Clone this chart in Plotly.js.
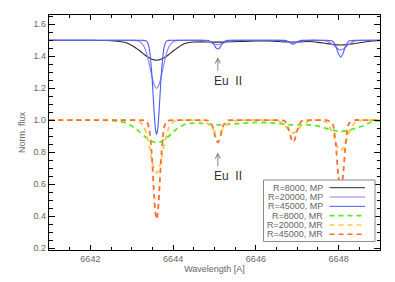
<!DOCTYPE html>
<html>
<head>
<meta charset="utf-8">
<script src="https://cdn.plot.ly/plotly-3.0.1.min.js"></script>
<style>html,body{margin:0;padding:0;background:#fff;}#chart{width:395px;height:282px;}</style>
</head>
<body>
<div id="chart"></div>
<script>
// Wavelength grid [A]
const wavelength = [6641.0, 6642.0, 6642.4, 6642.7, 6642.9, 6643.1, 6643.2, 6643.3, 6643.36, 6643.42,
  6643.48, 6643.54, 6643.57, 6643.6, 6643.63, 6643.66, 6643.72, 6643.78, 6643.84, 6643.9,
  6644.0, 6644.1, 6644.3, 6644.5, 6644.7, 6644.85, 6644.95, 6645.0, 6645.04, 6645.08,
  6645.12, 6645.16, 6645.22, 6645.32, 6645.45, 6645.7, 6646.0, 6646.3, 6646.55, 6646.7,
  6646.8, 6646.86, 6646.9, 6646.94, 6647.0, 6647.1, 6647.3, 6647.5, 6647.7, 6647.85,
  6647.93, 6647.99, 6648.05, 6648.11, 6648.17, 6648.25, 6648.4, 6648.6, 6648.8, 6649.0];

// MP spectra (shifted by +0.5)
const mpR8000 = [1.5, 1.5, 1.498, 1.492, 1.481, 1.452, 1.433, 1.412, 1.400, 1.390,
  1.382, 1.377, 1.376, 1.375, 1.376, 1.377, 1.382, 1.390, 1.400, 1.412,
  1.433, 1.452, 1.481, 1.489, 1.490, 1.489, 1.489, 1.488, 1.488, 1.488,
  1.488, 1.488, 1.489, 1.490, 1.491, 1.493, 1.495, 1.495, 1.492, 1.490,
  1.489, 1.489, 1.489, 1.489, 1.489, 1.490, 1.492, 1.487, 1.480, 1.475,
  1.472, 1.471, 1.470, 1.471, 1.472, 1.475, 1.480, 1.488, 1.495, 1.499];
const mpR20000 = [1.5, 1.5, 1.5, 1.5, 1.5, 1.499, 1.491, 1.459, 1.417, 1.354,
  1.282, 1.223, 1.206, 1.200, 1.206, 1.223, 1.282, 1.354, 1.417, 1.459,
  1.491, 1.499, 1.5, 1.5, 1.5, 1.491, 1.481, 1.476, 1.473, 1.472,
  1.473, 1.476, 1.482, 1.492, 1.499, 1.5, 1.5, 1.5, 1.499, 1.495,
  1.490, 1.488, 1.488, 1.488, 1.490, 1.495, 1.5, 1.5, 1.496, 1.475,
  1.456, 1.445, 1.440, 1.445, 1.456, 1.475, 1.496, 1.5, 1.5, 1.5];
const mpR45000 = [1.5, 1.5, 1.5, 1.5, 1.5, 1.5, 1.5, 1.499, 1.494, 1.453,
  1.308, 1.055, 0.950, 0.910, 0.950, 1.055, 1.308, 1.453, 1.494, 1.499,
  1.5, 1.5, 1.5, 1.5, 1.5, 1.499, 1.485, 1.467, 1.451, 1.445,
  1.451, 1.467, 1.488, 1.499, 1.5, 1.5, 1.5, 1.5, 1.5, 1.499,
  1.489, 1.479, 1.476, 1.479, 1.489, 1.499, 1.5, 1.5, 1.5, 1.495,
  1.466, 1.420, 1.394, 1.420, 1.466, 1.495, 1.5, 1.5, 1.5, 1.5];

// MR spectra
const mrR8000 = [1.0, 1.0, 0.999, 0.992, 0.979, 0.947, 0.925, 0.901, 0.888, 0.877,
  0.868, 0.862, 0.8605, 0.860, 0.8605, 0.862, 0.868, 0.877, 0.888, 0.901,
  0.925, 0.947, 0.976, 0.982, 0.980, 0.976, 0.973, 0.972, 0.971, 0.971,
  0.971, 0.971, 0.972, 0.973, 0.976, 0.981, 0.986, 0.984, 0.978, 0.974,
  0.971, 0.970, 0.970, 0.970, 0.971, 0.972, 0.970, 0.963, 0.948, 0.937,
  0.933, 0.931, 0.930, 0.931, 0.933, 0.937, 0.948, 0.965, 0.990, 0.998];
const mrR20000 = [1.0, 1.0, 1.0, 1.0, 1.0, 0.999, 0.990, 0.955, 0.908, 0.839,
  0.760, 0.695, 0.677, 0.670, 0.677, 0.695, 0.760, 0.839, 0.908, 0.955,
  0.990, 0.999, 1.0, 1.0, 0.997, 0.975, 0.945, 0.931, 0.923, 0.920,
  0.923, 0.931, 0.948, 0.978, 0.996, 1.0, 1.0, 1.0, 0.995, 0.967,
  0.936, 0.923, 0.920, 0.923, 0.936, 0.967, 0.998, 1.0, 0.987, 0.922,
  0.862, 0.825, 0.810, 0.825, 0.862, 0.922, 0.987, 1.0, 1.0, 1.0];
const mrR45000 = [1.0, 1.0, 1.0, 1.0, 1.0, 1.0, 1.0, 0.999, 0.993, 0.950,
  0.799, 0.532, 0.422, 0.380, 0.422, 0.532, 0.799, 0.950, 0.993, 0.999,
  1.0, 1.0, 1.0, 1.0, 1.0, 0.998, 0.963, 0.915, 0.877, 0.860,
  0.877, 0.915, 0.970, 0.999, 1.0, 1.0, 1.0, 1.0, 1.0, 0.994,
  0.937, 0.879, 0.863, 0.879, 0.937, 0.994, 1.0, 1.0, 1.0, 0.980,
  0.854, 0.660, 0.550, 0.660, 0.854, 0.980, 1.0, 1.0, 1.0, 1.0];

const seriesNames = ['R=8000, MP', 'R=20000, MP', 'R=45000, MP', 'R=8000, MR', 'R=20000, MR', 'R=45000, MR'];
const seriesValues = [mpR8000, mpR20000, mpR45000, mrR8000, mrR20000, mrR45000];
const seriesColors = ['#2a2a2a', '#9478ee', '#4a5af2', '#5fe81e', '#ffc84a', '#ff6e2e'];
const seriesDashed = [false, false, false, true, true, true];

// Eu II marker
const lineLabel = 'Eu\u00a0 II';
const euWavelength = 6645.08;

const DASH = '5px,4px';
const traces = seriesValues.map((vals, i) => ({
  x: wavelength, y: vals, type: 'scatter', mode: 'lines', name: seriesNames[i],
  showlegend: false, hoverinfo: 'skip',
  line: {color: seriesColors[i], width: seriesDashed[i] ? 1.8 : 1.1,
         dash: seriesDashed[i] ? DASH : 'solid', shape: 'spline', smoothing: 0.6}
}));

// plot area in pixels (for legend placement)
const W = 395, H = 282, ML = 49, MR = 15, MT = 15, MB = 32;
const PW = W - ML - MR, PH = H - MT - MB;
const px = v => (v - ML) / PW;
const py = v => (H - MB - v) / PH;

const shapes = [{type: 'rect', xref: 'paper', yref: 'paper', x0: px(263.5), x1: px(375), y0: py(241.5), y1: py(180),
  fillcolor: '#ffffff', line: {color: '#8a8a8a', width: 1}, layer: 'above'}];
const annotations = [];
seriesNames.forEach((nm, i) => {
  const rowY = 187.7 + i * 9.32;
  shapes.push({type: 'line', xref: 'paper', yref: 'paper', x0: px(329.5), x1: px(365), y0: py(rowY), y1: py(rowY),
    line: {color: seriesColors[i], width: seriesDashed[i] ? 1.6 : 1.0, dash: seriesDashed[i] ? DASH : 'solid'}, layer: 'above'});
  annotations.push({xref: 'paper', yref: 'paper', x: px(325), y: py(rowY), xanchor: 'right', yanchor: 'middle',
    text: nm, showarrow: false, font: {family: 'Liberation Sans, Arial, sans-serif', size: 9, color: '#666'}});
});

// Eu II arrows and labels
const arrowStyle = {text: '', showarrow: true, arrowhead: 5, arrowsize: 1.1, arrowwidth: 0.9, arrowcolor: '#777',
  axref: 'x', ayref: 'y', xref: 'x', yref: 'y'};
annotations.push(Object.assign({x: euWavelength, y: 1.394, ax: euWavelength, ay: 1.30}, arrowStyle));
annotations.push(Object.assign({x: euWavelength, y: 0.798, ax: euWavelength, ay: 0.702}, arrowStyle));
annotations.push({x: 6645.335, y: 1.242, xref: 'x', yref: 'y', text: lineLabel, showarrow: false,
  font: {family: 'Liberation Sans, Arial, sans-serif', size: 12, color: '#333'}});
annotations.push({x: 6645.335, y: 0.650, xref: 'x', yref: 'y', text: lineLabel, showarrow: false,
  font: {family: 'Liberation Sans, Arial, sans-serif', size: 12, color: '#333'}});

const axisCommon = {showline: true, linecolor: '#000', linewidth: 1.3, mirror: 'ticks', ticks: 'inside',
  tickcolor: '#000', tickwidth: 1, showgrid: false, zeroline: false,
  tickfont: {family: 'Liberation Sans, Arial, sans-serif', size: 9, color: '#666'}};

const layout = {
  width: W, height: H, margin: {l: ML, r: MR, t: MT, b: MB},
  paper_bgcolor: '#fff', plot_bgcolor: '#fff', showlegend: false,
  xaxis: Object.assign({}, axisCommon, {range: [6641, 6649], tickmode: 'linear', tick0: 6642, dtick: 2, ticklen: 5,
    minor: {tickmode: 'linear', tick0: 6641, dtick: 0.5, ticks: 'inside', ticklen: 3, tickcolor: '#000', tickwidth: 1},
    title: {text: 'Wavelength [A]', standoff: 2, font: {family: 'Liberation Sans, Arial, sans-serif', size: 9, color: '#666'}}}),
  yaxis: Object.assign({}, axisCommon, {range: [0.1875, 1.658], tickmode: 'linear', tick0: 0.2, dtick: 0.2, ticklen: 6,
    tickformat: '.1f',
    minor: {tickmode: 'linear', tick0: 0.2, dtick: 0.05, ticks: 'inside', ticklen: 3.5, tickcolor: '#000', tickwidth: 1},
    title: {text: 'Norm. flux', standoff: 6, font: {family: 'Liberation Sans, Arial, sans-serif', size: 9, color: '#666'}}}),
  shapes: shapes, annotations: annotations
};

Plotly.newPlot('chart', traces, layout, {staticPlot: true, displayModeBar: false});
</script>
</body>
</html>
